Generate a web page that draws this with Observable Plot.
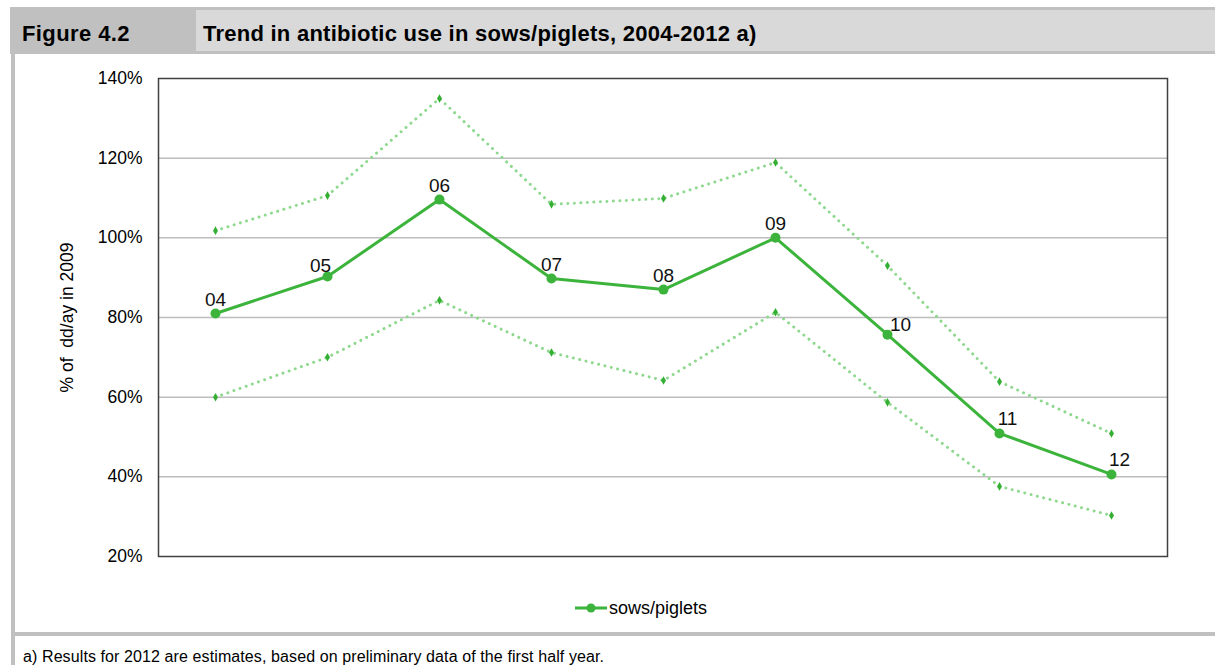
<!DOCTYPE html>
<html><head><meta charset="utf-8">
<script src="https://cdn.jsdelivr.net/npm/d3@7"></script>
<script src="https://cdn.jsdelivr.net/npm/@observablehq/plot@0.6"></script>
<style>
body{margin:0;background:#fff;}
#page{position:relative;width:1215px;height:665px;overflow:hidden;font-family:"Liberation Sans",Arial,sans-serif;color:#000;}
#hdr{position:absolute;left:10px;top:7px;width:1205px;height:47px;background:#c0c0c0;z-index:2;}
#hdr1{position:absolute;left:12px;top:3px;height:47px;line-height:47px;font-weight:bold;font-size:22px;letter-spacing:0.4px;}
#hdr2{position:absolute;left:186px;top:3px;right:0;height:41px;background:#d9d9d9;}
#hdr2 span{position:absolute;left:7px;top:3px;line-height:41px;font-weight:bold;font-size:22px;letter-spacing:0.25px;}
#lborder{position:absolute;left:11px;top:54px;width:4px;height:611px;background:#c0c0c0;z-index:2;}
#hbar{position:absolute;left:11px;top:632px;width:1204px;height:4px;background:#c0c0c0;z-index:2;}
#chart{position:absolute;left:0;top:54px;z-index:1;}
#legend{position:absolute;top:598px;left:575px;height:20px;display:flex;align-items:center;font-size:18px;z-index:2;}
#note{position:absolute;left:23px;top:648px;font-size:16px;letter-spacing:0.1px;z-index:2;white-space:nowrap;}
</style>
</head><body>
<div id="page">
  <div id="hdr"><div id="hdr1">Figure 4.2</div><div id="hdr2"><span>Trend in antibiotic use in sows/piglets, 2004-2012 a)</span></div></div>
  <div id="lborder"></div>
  <div id="chart"></div>
  <div id="legend"><svg width="34" height="12"><line x1="0" y1="6" x2="32" y2="6" stroke="#3cb43c" stroke-width="3"/><circle cx="16" cy="6" r="4.5" fill="#3cb43c"/></svg><span>sows/piglets</span></div>
  <div id="hbar"></div>
  <div id="note">a) Results for 2012 are estimates, based on preliminary data of the first half year.</div>
</div>
<script>
const years = ["04","05","06","07","08","09","10","11","12"];
const sowsPiglets = [81.0, 90.3, 109.6, 89.8, 87.0, 100.0, 75.7, 50.9, 40.6];
const upperBound = [101.8, 110.6, 135.0, 108.4, 109.9, 118.9, 93.0, 63.9, 50.9];
const lowerBound = [60.0, 70.0, 84.3, 71.2, 64.2, 81.3, 58.7, 37.6, 30.3];
const yTicks = [20, 40, 60, 80, 100, 120, 140];
const gridTicks = [40, 60, 80, 100, 120];
const yLabel = "% of\u00a0 dd/ay in 2009";

const main = years.map((y, i) => ({year: y, v: sowsPiglets[i]}));
const upper = years.map((y, i) => ({year: y, v: upperBound[i]}));
const lower = years.map((y, i) => ({year: y, v: lowerBound[i]}));

const green = "#3cb43c";
const light = "#8fd88f";
const fontFam = '"Liberation Sans",Arial,sans-serif';

const dotted = {x: "year", y: "v", stroke: light, strokeWidth: 3, strokeDasharray: "0.01 6.5", strokeLinecap: "round"};
const marker = {x: "year", y: "v", symbol: "diamond", r: 2.6, fill: "#33b033"};
const lbl = {x: "year", y: "v", text: "year", fontSize: 19, fill: "#111"};

const plot = Plot.plot({
  width: 1215,
  height: 578,
  marginLeft: 158,
  marginRight: 48,
  marginTop: 24,
  marginBottom: 76,
  style: {background: "transparent", fontFamily: fontFam, fontSize: "17.5px", color: "#000"},
  x: {type: "point", domain: years, padding: 0.5, axis: null},
  y: {domain: [20, 140], ticks: yTicks, tickFormat: d => d + "%", tickSize: 0, tickPadding: 16, label: null},
  marks: [
    Plot.ruleY(gridTicks, {stroke: "#bdbdbd", strokeWidth: 1.5}),
    Plot.frame({stroke: "#404040", strokeWidth: 1.5}),
    Plot.text([yLabel], {frameAnchor: "left", textAnchor: "middle", dx: -91, rotate: -90, fontSize: 17.5, fill: "#000"}),
    Plot.line(upper, dotted),
    Plot.line(lower, dotted),
    Plot.dot(upper, marker),
    Plot.dot(lower, marker),
    Plot.line(main, {x: "year", y: "v", stroke: green, strokeWidth: 3}),
    Plot.dot(main, {x: "year", y: "v", r: 5, fill: green}),
    Plot.text(main, {...lbl, filter: d => !["05","10","11","12"].includes(d.year), dy: -14}),
    Plot.text(main, {...lbl, filter: d => d.year === "05", dx: -7, dy: -11}),
    Plot.text(main, {...lbl, filter: d => d.year === "10", dx: 13, dy: -10}),
    Plot.text(main, {...lbl, filter: d => ["11","12"].includes(d.year), dx: 8, dy: -15})
  ]
});
document.getElementById("chart").appendChild(plot);
</script>
</body></html>
